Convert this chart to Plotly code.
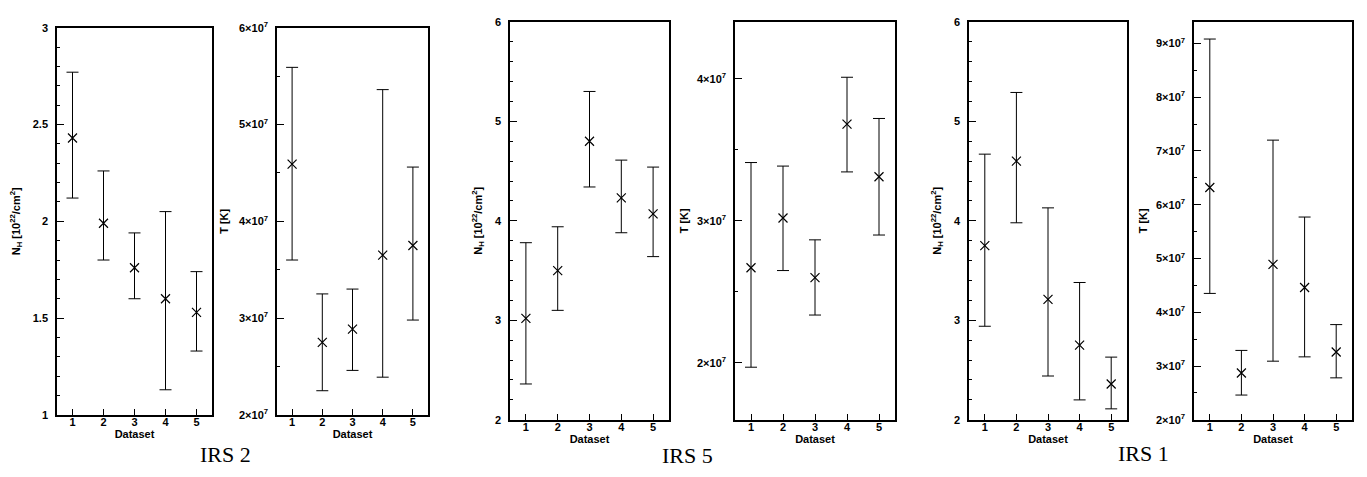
import plotly.graph_objects as go

W, H = 1367, 477

datasets = [1, 2, 3, 4, 5]

# IRS 2
irs2_nh = [2.43, 1.99, 1.76, 1.60, 1.53]
irs2_nh_hi = [2.77, 2.26, 1.94, 2.05, 1.74]
irs2_nh_lo = [2.12, 1.80, 1.60, 1.13, 1.33]
irs2_t = [4.59e7, 2.75e7, 2.886e7, 3.65e7, 3.75e7]
irs2_t_hi = [5.59e7, 3.25e7, 3.30e7, 5.36e7, 4.56e7]
irs2_t_lo = [3.60e7, 2.25e7, 2.46e7, 2.39e7, 2.98e7]

# IRS 5
irs5_nh = [3.02, 3.50, 4.80, 4.23, 4.07]
irs5_nh_hi = [3.78, 3.94, 5.30, 4.61, 4.54]
irs5_nh_lo = [2.36, 3.10, 4.34, 3.88, 3.64]
irs5_t = [2.67e7, 3.02e7, 2.60e7, 3.68e7, 3.31e7]
irs5_t_hi = [3.41e7, 3.385e7, 2.866e7, 4.01e7, 3.72e7]
irs5_t_lo = [1.97e7, 2.65e7, 2.337e7, 3.344e7, 2.90e7]

# IRS 1
irs1_nh = [3.75, 4.60, 3.21, 2.75, 2.36]
irs1_nh_hi = [4.67, 5.29, 4.13, 3.38, 2.63]
irs1_nh_lo = [2.94, 3.98, 2.44, 2.20, 2.11]
irs1_t = [6.32e7, 2.87e7, 4.89e7, 4.46e7, 3.26e7]
irs1_t_hi = [9.08e7, 3.29e7, 7.20e7, 5.77e7, 3.77e7]
irs1_t_lo = [4.35e7, 2.46e7, 3.09e7, 3.17e7, 2.78e7]

group_labels = ["IRS 2", "IRS 5", "IRS 1"]

nh_title = "N<sub>H</sub> [10<sup>22</sup>/cm<sup>2</sup>]"
t_title = "T [K]"

def sci_ticks(vals):
    return [f"{int(round(v / 1e7))}×10<sup>7</sup>" for v in vals]

panels = [
    dict(y=irs2_nh, hi=irs2_nh_hi, lo=irs2_nh_lo, px=(49, 204), py=(12, 411),
         rng=[1, 3], tv=[1, 1.5, 2, 2.5, 3], tt=["1", "1.5", "2", "2.5", "3"], minor=0.1, title=nh_title, st=14),
    dict(y=irs2_t, hi=irs2_t_hi, lo=irs2_t_lo, px=(269, 420), py=(12, 411),
         rng=[2e7, 6e7], tv=[2e7, 3e7, 4e7, 5e7, 6e7], tt=None, minor=0.5e7, title=t_title, st=8),
    dict(y=irs5_nh, hi=irs5_nh_hi, lo=irs5_nh_lo, px=(502, 661), py=(6, 416),
         rng=[2, 6], tv=[2, 3, 4, 5, 6], tt=["2", "3", "4", "5", "6"], minor=0.2, title=nh_title, st=10),
    dict(y=irs5_t, hi=irs5_t_hi, lo=irs5_t_lo, px=(727, 887), py=(6, 416),
         rng=[1.6e7, 4.4e7], tv=[2e7, 3e7, 4e7], tt=None, minor=0.5e7, title=t_title, st=6),
    dict(y=irs1_nh, hi=irs1_nh_hi, lo=irs1_nh_lo, px=(961, 1119), py=(6, 416),
         rng=[2, 6], tv=[2, 3, 4, 5, 6], tt=["2", "3", "4", "5", "6"], minor=0.2, title=nh_title, st=10),
    dict(y=irs1_t, hi=irs1_t_hi, lo=irs1_t_lo, px=(1186, 1344), py=(6, 416),
         rng=[2e7, 9.4e7], tv=[2e7, 3e7, 4e7, 5e7, 6e7, 7e7, 8e7, 9e7], tt=None, minor=0.5e7, title=t_title, st=6),
]

fig = go.Figure()
layout = dict(width=W, height=H, margin=dict(l=0, r=0, t=0, b=0),
              paper_bgcolor="white", plot_bgcolor="white", showlegend=False,
              font=dict(family="Liberation Sans, Arial, sans-serif", color="black"))

tickfont = dict(family="Liberation Sans, Arial, sans-serif", size=11, color="black", weight="bold")

for i, p in enumerate(panels, start=1):
    sfx = "" if i == 1 else str(i)
    plus = [h - v for h, v in zip(p["hi"], p["y"])]
    minus = [v - l for v, l in zip(p["y"], p["lo"])]
    fig.add_trace(go.Scatter(
        x=datasets, y=p["y"], mode="markers",
        xaxis="x" + sfx, yaxis="y" + sfx,
        marker=dict(symbol="x-thin", size=9, color="black", line=dict(width=1.2, color="black")),
        error_y=dict(type="data", symmetric=False, array=plus, arrayminus=minus,
                     color="black", thickness=1, width=6),
    ))
    x0, x1 = p["px"]
    y0, y1 = p["py"]
    layout["xaxis" + sfx] = dict(
        domain=[x0 / W, x1 / W], anchor="y" + sfx, range=[0.5, 5.5],
        tickvals=datasets, ticktext=[str(d) for d in datasets],
        ticks="inside", ticklen=6, tickwidth=1, tickcolor="black",
        showline=True, linewidth=1.5, linecolor="black", mirror=True,
        showgrid=False, zeroline=False, tickfont=tickfont, ticklabelstandoff=-4,
        title=dict(text="Dataset", font=dict(size=11, weight="bold", color="black"), standoff=0),
    )
    tt = p["tt"] if p["tt"] is not None else sci_ticks(p["tv"])
    layout["yaxis" + sfx] = dict(
        domain=[1 - y1 / H, 1 - y0 / H], anchor="x" + sfx, range=p["rng"],
        tickvals=p["tv"], ticktext=tt,
        ticks="inside", ticklen=7, tickwidth=1, tickcolor="black",
        minor=dict(dtick=p["minor"], ticks="inside", ticklen=3, tickwidth=1, tickcolor="black", showgrid=False),
        showline=True, linewidth=1.5, linecolor="black", mirror=True,
        showgrid=False, zeroline=False, tickfont=tickfont, ticklabelstandoff=5,
        title=dict(text=p["title"], font=dict(size=11, weight="bold", color="black"), standoff=p["st"]),
    )

label_pos = [(217, 452), (679, 453), (1135, 451)]
annotations = []
for txt, (cx, cy) in zip(group_labels, label_pos):
    annotations.append(dict(text=txt, x=cx / W, y=1 - cy / H, xref="paper", yref="paper",
                            xanchor="center", yanchor="middle", showarrow=False,
                            font=dict(family="Liberation Serif, Times New Roman, serif", size=22, color="black")))
layout["annotations"] = annotations
fig.update_layout(**layout)

fig.write_html("out.html")
